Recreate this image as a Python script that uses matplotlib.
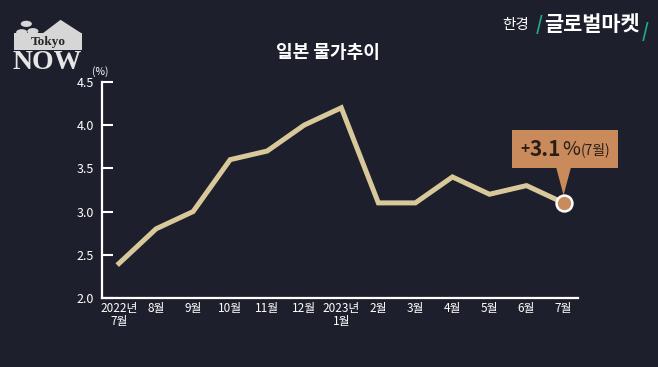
import matplotlib.pyplot as plt
from matplotlib.patches import Rectangle, Polygon, Circle

plt.rcParams['font.family'] = ['Noto Sans CJK KR', 'DejaVu Sans']

# Japan consumer price trend (%)
months = ['2022년\n7월', '8월', '9월', '10월', '11월', '12월', '2023년\n1월',
          '2월', '3월', '4월', '5월', '6월', '7월']
cpi = [2.4, 2.8, 3.0, 3.6, 3.7, 4.0, 4.2, 3.1, 3.1, 3.4, 3.2, 3.3, 3.1]
yticks = [2.0, 2.5, 3.0, 3.5, 4.0, 4.5]

bg = '#1e1f2c'
line_c = '#d9c99a'
accent = '#c98b5c'
dark = '#2a1d16'

fig = plt.figure(figsize=(6.58, 3.67), dpi=100, facecolor=bg)
ax = fig.add_axes([0.155, 0.188, 0.724, 0.589], facecolor=bg)

x = list(range(len(cpi)))
ax.plot(x, cpi, color=line_c, linewidth=3.6, solid_joinstyle='miter', zorder=3)
ax.scatter([x[-1]], [cpi[-1]], s=130, color=accent, edgecolor='white',
           linewidth=1.8, zorder=5, clip_on=False)

ax.set_xlim(-0.46, 12.4)
ax.set_ylim(2.0, 4.5)
ax.set_yticks(yticks)
ax.set_yticklabels([f'{v:.1f}' for v in yticks])
ax.set_xticks(x)
ax.set_xticklabels(months, linespacing=1.0, fontweight='medium')

for s in ['top', 'right']:
    ax.spines[s].set_visible(False)
for s in ['left', 'bottom']:
    ax.spines[s].set_color('white')
    ax.spines[s].set_linewidth(1.6)
ax.tick_params(axis='y', direction='in', length=8, width=1.5, colors='white',
               labelsize=9, pad=6)
ax.tick_params(axis='x', length=0, colors='white', labelsize=8.5, pad=3)

# callout above the last point
xl, yl = x[-1], cpi[-1]
ax.add_patch(Rectangle((10.62, 3.50), 2.84, 0.44, facecolor=accent,
                       edgecolor='none', zorder=4, clip_on=False))
ax.add_patch(Polygon([(xl - 0.2, 3.51), (xl + 0.2, 3.51), (xl, 3.19)],
                     closed=True, facecolor=accent, edgecolor='none', zorder=4,
                     clip_on=False))
fig.canvas.draw()
r = fig.canvas.get_renderer()
parts = [('+', 11, 'bold'), ('3.1', 15, 'bold'), ('%', 14, 'normal'),
         ('(7월)', 10, 'normal')]
arts = [ax.text(0, 3.72, t, color=dark, fontsize=fs, fontweight=fw,
                va='center', ha='left', zorder=6, clip_on=False)
        for t, fs, fw in parts]
widths = [a.get_window_extent(r).width for a in arts]
total = sum(widths) + 2
to_data = ax.transData.inverted()
x0_px = ax.transData.transform((12.04, 3.72))[0] - total / 2
cur = x0_px
for a, w in zip(arts, widths):
    a.set_x(to_data.transform((cur, 0))[0])
    cur += w + 0.7

# titles
fig.text(0.498, 0.858, '일본 물가추이', color='white', fontsize=13,
         fontweight='bold', ha='center', va='center')
fig.text(0.152, 0.806, '(%)', color='white', fontsize=7.5, ha='center',
         va='center')

# Tokyo NOW logo
logo = '#d6d6d6'
fig.patches.append(Rectangle((0.021, 0.864), 0.104, 0.046, facecolor=logo,
                             edgecolor='none', transform=fig.transFigure))
fig.patches.append(Polygon([(0.064, 0.908), (0.092, 0.946), (0.125, 0.908)],
                           closed=True, facecolor=logo, edgecolor='none',
                           transform=fig.transFigure))
for cx, cy in [(0.040, 0.935), (0.050, 0.915), (0.033, 0.912)]:
    fig.patches.append(Circle((cx, cy), 0.0085, facecolor=logo,
                              edgecolor='none', transform=fig.transFigure))
fig.text(0.073, 0.886, 'Tokyo', color='#262626', fontsize=9.5,
         family='Liberation Serif', fontweight='bold', ha='center', va='center')
fig.text(0.072, 0.830, 'NOW', color='#e6e6e6', fontsize=20,
         family='Liberation Serif', fontweight='bold', ha='center', va='center')

# 한경 글로벌마켓 brand
fig.text(0.784, 0.932, '한경', color='white', fontsize=10.5, ha='center',
         va='center')
fig.text(0.820, 0.932, '/', color='#1fa88a', fontsize=13, fontweight='bold',
         ha='center', va='center')
fig.text(0.899, 0.932, '글로벌마켓', color='white', fontsize=15,
         fontweight='bold', ha='center', va='center')
fig.text(0.980, 0.915, '/', color='#1fa88a', fontsize=13, fontweight='bold',
         ha='center', va='center')

fig.savefig('out.png', dpi=100, facecolor=bg)
